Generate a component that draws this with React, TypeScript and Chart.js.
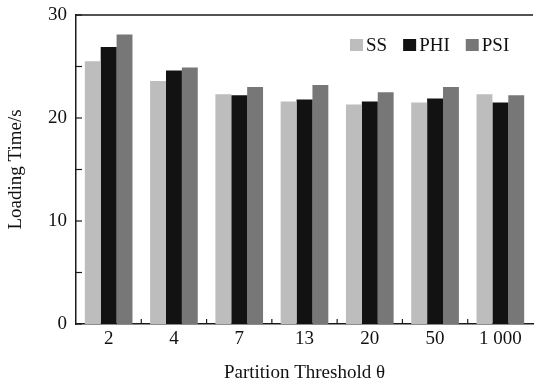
import React, { useEffect, useRef } from "react";
import { Chart, registerables } from "chart.js";

Chart.register(...registerables);

const categories = ["2", "4", "7", "13", "20", "50", "1 000"];
const ssValues = [25.5, 23.6, 22.3, 21.6, 21.3, 21.5, 22.3];
const phiValues = [26.9, 24.6, 22.2, 21.8, 21.6, 21.9, 21.5];
const psiValues = [28.1, 24.9, 23.0, 23.2, 22.5, 23.0, 22.2];
const seriesNames = ["SS", "PHI", "PSI"];
const seriesColors = ["#bdbdbd", "#121212", "#777777"];
const yMin = 0;
const yMax = 30;
const yMajorStep = 10;
const yMinorStep = 5;
const xTitle = "Partition Threshold θ";
const yTitle = "Loading Time/s";

const FONT = '"Liberation Serif", "Times New Roman", serif';
const AXIS_COLOR = "#1a1a1a";
const FS = 19;

const framePlugin = {
  id: "frameAndTicks",
  afterDraw(chart: any) {
    const { ctx, chartArea } = chart;
    const xs = chart.scales.x;
    const ys = chart.scales.y;
    ctx.save();
    ctx.strokeStyle = AXIS_COLOR;
    ctx.lineWidth = 1.5;
    ctx.beginPath();
    ctx.moveTo(chartArea.left, chartArea.top);
    ctx.lineTo(chartArea.right, chartArea.top);
    ctx.stroke();
    ctx.lineWidth = 1.2;
    for (let v = yMin; v <= yMax; v += yMinorStep) {
      const y = ys.getPixelForValue(v);
      ctx.beginPath();
      ctx.moveTo(chartArea.left, y);
      ctx.lineTo(chartArea.left + 6, y);
      ctx.stroke();
    }
    for (let i = 0; i < categories.length - 1; i++) {
      const x = (xs.getPixelForValue(i) + xs.getPixelForValue(i + 1)) / 2;
      ctx.beginPath();
      ctx.moveTo(x, chartArea.bottom);
      ctx.lineTo(x, chartArea.bottom - 5);
      ctx.stroke();
    }
    ctx.font = `${FS}px ${FONT}`;
    ctx.textBaseline = "middle";
    ctx.textAlign = "left";
    let x = chartArea.left + 274;
    const yc = chartArea.top + 30;
    chart.data.datasets.forEach((ds: any) => {
      ctx.fillStyle = ds.backgroundColor;
      ctx.fillRect(x, yc - 6, 13, 12);
      x += 16;
      ctx.fillStyle = "#111";
      ctx.fillText(ds.label, x, yc + 1);
      x += ctx.measureText(ds.label).width + 16;
    });
    ctx.restore();
  },
};

export default function App() {
  const ref = useRef<HTMLCanvasElement | null>(null);
  useEffect(() => {
    if (!ref.current) return;
    const values = [ssValues, phiValues, psiValues];
    const chart = new Chart(ref.current, {
      type: "bar",
      data: {
        labels: categories,
        datasets: seriesNames.map((name, i) => ({
          label: name,
          data: values[i],
          backgroundColor: seriesColors[i],
          borderWidth: 0,
          barPercentage: 1,
          categoryPercentage: 0.73,
        })),
      },
      options: {
        animation: false,
        responsive: false,
        maintainAspectRatio: false,
        layout: { padding: { top: 15, right: 2, left: 0, bottom: 0 } },
        plugins: {
          legend: { display: false },
          tooltip: { enabled: false },
        },
        scales: {
          x: {
            grid: { display: false, drawTicks: false },
            border: { display: true, color: AXIS_COLOR, width: 1.5 },
            ticks: {
              color: "#111",
              font: { family: FONT, size: FS },
              padding: 4,
              maxRotation: 0,
              autoSkip: false,
            },
            title: {
              display: true,
              text: xTitle,
              color: "#111",
              font: { family: FONT, size: FS },
              padding: { top: 0, bottom: 2 },
            },
            afterFit(scale: any) {
              scale.height = 62;
              scale.paddingLeft = 0;
              scale.paddingRight = 0;
            },
          },
          y: {
            min: yMin,
            max: yMax,
            grid: { display: false, drawTicks: false },
            border: { display: true, color: AXIS_COLOR, width: 1.5 },
            ticks: {
              stepSize: yMajorStep,
              color: "#111",
              font: { family: FONT, size: FS },
              padding: 9,
            },
            title: {
              display: true,
              text: yTitle,
              color: "#111",
              font: { family: FONT, size: FS },
              padding: { top: 5, bottom: 0 },
            },
            afterFit(scale: any) {
              scale.width = 76;
              scale.paddingTop = 0;
              scale.paddingBottom = 0;
            },
          },
        },
      },
      plugins: [framePlugin],
    });
    return () => chart.destroy();
  }, []);
  return (
    <div style={{ position: "absolute", left: 0, top: 0, width: 535, height: 386, background: "#fff" }}>
      <canvas ref={ref} width={535} height={386} style={{ display: "block" }} />
    </div>
  );
}
